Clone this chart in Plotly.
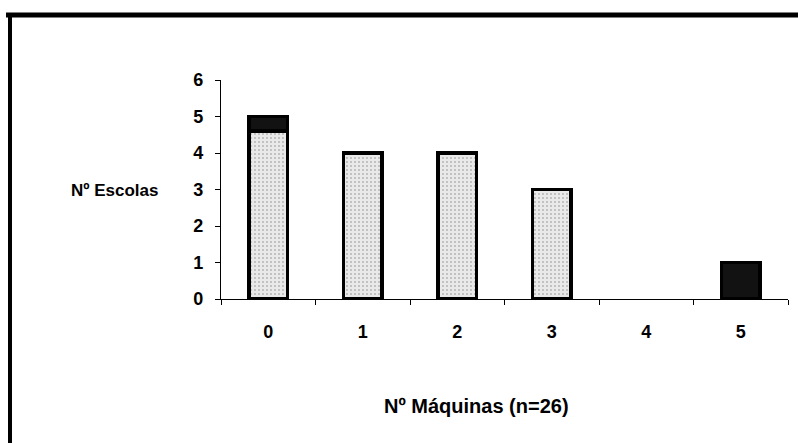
import plotly.graph_objects as go

categories = ["0", "1", "2", "3", "4", "5"]
light_part = [4.6, 4, 4, 3, None, None]
dark_part = [0.4, None, None, None, None, 1]
y_ticks = [0, 1, 2, 3, 4, 5, 6]

W, H = 798, 443
L, R, T, B = 221, 10, 80, 144
pw, ph = W - L - R, H - T - B

def px(x):
    return (x - L) / pw

def py(y):
    return (H - B - y) / ph

font = "Liberation Sans, Arial, sans-serif"

fig = go.Figure()
fig.add_bar(
    x=categories, y=light_part, width=0.41,
    marker=dict(color="#e0e0e0", line=dict(color="black", width=3.5),
                pattern=dict(shape=".", fgcolor="#7a7a7a", bgcolor="#e9e9e9", size=4, solidity=0.18)),
    showlegend=False,
)
fig.add_bar(
    x=categories, y=dark_part, width=0.41,
    marker=dict(color="#121212", line=dict(color="black", width=3.5)),
    showlegend=False,
)

fig.update_layout(
    width=W, height=H, barmode="stack",
    margin=dict(l=L, r=R, t=T, b=B),
    paper_bgcolor="white", plot_bgcolor="white",
    font=dict(family=font, size=18, color="black"),
    xaxis=dict(type="category", showline=True, linecolor="black", linewidth=1.2,
               ticks="outside", tickson="boundaries", ticklen=5, tickcolor="black",
               tickfont=dict(family=font, size=18, weight="bold"), showgrid=False,
               ticklabelstandoff=16),
    yaxis=dict(range=[0, 6], tickvals=y_ticks, showline=True, linecolor="black", linewidth=1.2,
               ticks="outside", ticklen=5, tickcolor="black", showgrid=False, zeroline=False,
               tickfont=dict(family=font, size=18, weight="bold"), ticklabelstandoff=8),
    shapes=[
        dict(type="line", xref="paper", yref="paper", x0=px(6), x1=px(800), y0=py(15), y1=py(15),
             line=dict(color="black", width=5)),
        dict(type="line", xref="paper", yref="paper", x0=px(10), x1=px(10), y0=py(13), y1=py(445),
             line=dict(color="black", width=4)),
    ],
    annotations=[
        dict(text="<b>Nº Escolas</b>", xref="paper", yref="paper", x=px(160), y=py(190),
             xanchor="right", yanchor="middle", showarrow=False, font=dict(family=font, size=17)),
        dict(text="<b>Nº Máquinas (n=26)</b>", xref="paper", yref="paper", x=px(476), y=py(406),
             xanchor="center", yanchor="middle", showarrow=False, font=dict(family=font, size=20)),
    ],
)

fig.write_html("out.html", config={"displayModeBar": False},
               post_script="document.body.style.margin='0';document.body.style.padding='0';")
